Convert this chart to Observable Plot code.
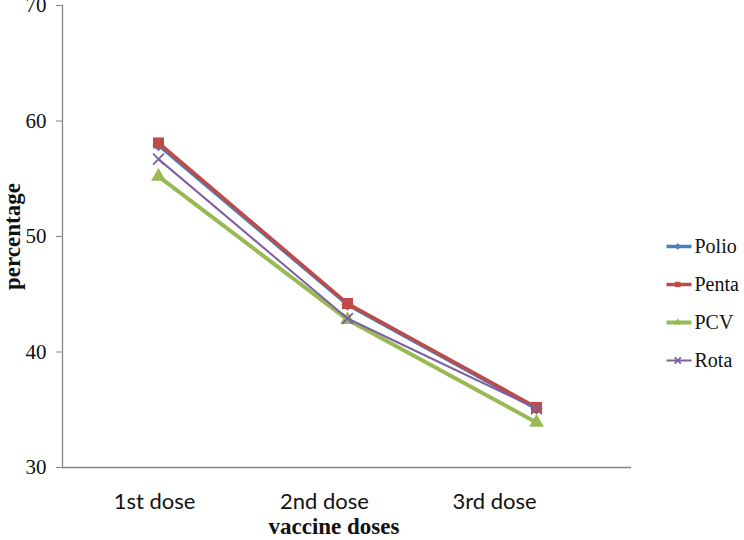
<!DOCTYPE html>
<html>
<head>
<meta charset="utf-8">
<script src="https://cdn.jsdelivr.net/npm/d3@7"></script>
<script src="https://cdn.jsdelivr.net/npm/@observablehq/plot@0.6"></script>
<style>
  html, body { margin: 0; padding: 0; background: #fff; }
  #wrap { position: relative; width: 744px; height: 540px; overflow: hidden; }
  #xlabels { position: absolute; left: 0; top: 467px; }
  #legend { position: absolute; left: 664px; top: 200px; }
</style>
</head>
<body>
<div id="wrap"><div id="chart"></div><div id="xlabels"></div><div id="legend"></div></div>
<script>
const doses = ["1st dose", "2nd dose", "3rd dose"];
const seriesNames = ["Polio", "Penta", "PCV", "Rota"];
const polio = [57.9, 44.1, 35.1];
const penta = [58.1, 44.2, 35.2];
const pcv = [55.2, 42.8, 33.9];
const rota = [56.7, 42.9, 35.1];
const yTicks = [30, 40, 50, 60, 70];
const xTitle = "vaccine doses";
const yTitle = "percentage";

const colors = ["#4A7EBB", "#BE4B48", "#98B954", "#7D60A0"];
const symbols = ["diamond2", "square2", "triangle2", "times"];
const widths = [3.5, 3.5, 4, 2];
const radii = [5.5, 7, 7, 5];

const valuesBySeries = [polio, penta, pcv, rota];
const rows = seriesNames.flatMap((s, i) =>
  doses.map((d, j) => ({series: s, dose: d, value: valuesBySeries[i][j]})));

const serif = "'Liberation Serif', 'Times New Roman', serif";
const sans = "Lato, 'Open Sans', sans-serif";

const marks = [
  Plot.frame({anchor: "left", stroke: "#868686", strokeWidth: 1.3}),
  Plot.ruleY([30], {stroke: "#868686", strokeWidth: 1.3}),
  Plot.axisY({ticks: yTicks, tickSize: 6, tickPadding: 10, label: null,
    fontSize: 21, fontFamily: serif, stroke: "#868686", fill: "#111"}),
  Plot.axisX({ticks: [], label: null}),
  Plot.text([yTitle], {frameAnchor: "left", dx: -50, rotate: -90, textAnchor: "middle",
    fontSize: 23, fontWeight: "bold", fontFamily: serif, fill: "#111"}),
  Plot.text([xTitle], {frameAnchor: "bottom", dx: -13, dy: 66, textAnchor: "middle",
    fontSize: 23, fontWeight: "bold", fontFamily: serif, fill: "#111"})
];
seriesNames.forEach((s, i) => {
  const data = rows.filter(r => r.series === s);
  marks.push(Plot.line(data, {x: "dose", y: "value", stroke: colors[i], strokeWidth: widths[i]}));
  const isStroke = symbols[i] === "times";
  marks.push(Plot.dot(data, {x: "dose", y: "value", symbol: () => symbols[i], r: radii[i],
    fill: isStroke ? "none" : colors[i], stroke: colors[i], strokeWidth: isStroke ? 1.8 : 0}));
});

const chart = Plot.plot({
  width: 744, height: 540,
  marginLeft: 62, marginRight: 113, marginTop: 5, marginBottom: 73,
  x: {type: "point", domain: doses, padding: 0.5},
  y: {domain: [30, 70]},
  style: {background: "#fff", overflow: "visible"},
  symbol: {type: "identity"},
  marks
});
document.getElementById("chart").appendChild(chart);

// Category labels (placed as in the reference, slightly offset from the points)
const xl = Plot.plot({
  width: 744, height: 60, margin: 0,
  x: {type: "point", domain: doses, range: [153, 494], padding: 0, axis: null},
  style: {background: "transparent", overflow: "visible"},
  marks: [
    Plot.text(doses, {x: d => d, frameAnchor: "top", dy: 26, lineAnchor: "top",
      fontSize: 22, fontFamily: sans, fill: "#111"})
  ]
});
document.getElementById("xlabels").appendChild(xl);

// Legend
const legendRows = seriesNames.map((s, i) => ({series: s, i}));
const legend = Plot.plot({
  width: 80, height: 190,
  margin: 0,
  x: {domain: [0, 1], range: [2, 27], axis: null},
  y: {type: "point", domain: seriesNames, range: [45, 161], padding: 0, axis: null},
  symbol: {type: "identity"},
  style: {background: "transparent", overflow: "visible"},
  marks: [
    Plot.link(legendRows, {x1: () => 0, x2: () => 1, y1: "series", y2: "series",
      stroke: d => colors[d.i], strokeWidth: d => widths[d.i]}),
    Plot.dot(legendRows, {x: () => 0.45, y: "series", symbol: d => symbols[d.i], r: d => radii[d.i],
      fill: d => symbols[d.i] === "times" ? "none" : colors[d.i], stroke: d => colors[d.i],
      strokeWidth: d => symbols[d.i] === "times" ? 1.8 : 0}),
    Plot.text(legendRows, {x: () => 1, y: "series", text: "series", dx: 3, textAnchor: "start",
      fontSize: 20, fontFamily: serif, fill: "#111"})
  ]
});
document.getElementById("legend").appendChild(legend);
</script>
</body>
</html>
